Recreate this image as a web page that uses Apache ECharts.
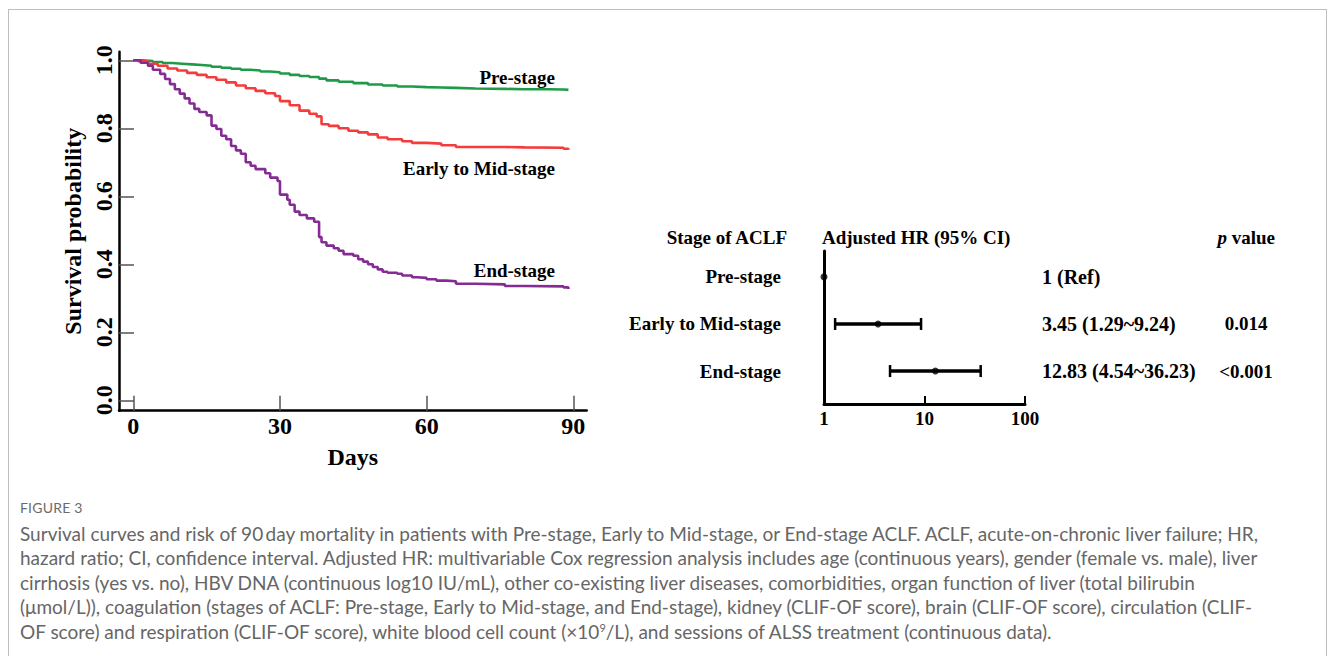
<!DOCTYPE html>
<html>
<head>
<meta charset="utf-8">
<script src="https://cdn.jsdelivr.net/npm/echarts@6/dist/echarts.min.js"></script>
<style>
  html, body { margin: 0; padding: 0; background: #fff; width: 1330px; height: 656px; overflow: hidden; }
  #frame { position: absolute; left: 8px; top: 9px; width: 1319px; height: 700px; border: 1px solid #bdbdbd; box-sizing: border-box; }
  #chart { position: absolute; left: 0; top: 0; width: 1330px; height: 480px; }
  #figlabel { position: absolute; left: 20px; top: 499px; font-family: Lato, "Open Sans", sans-serif; font-size: 14px; color: #6b6b6b; letter-spacing: 0.2px; }
  #caption { position: absolute; left: 20px; top: 522px; font-family: Lato, "Open Sans", sans-serif; font-size: 19px; line-height: 24.4px; color: #666; white-space: nowrap; }
  #caption sup { font-size: 11px; line-height: 0; vertical-align: 7px; }
</style>
</head>
<body>
<div id="frame"></div>
<div id="chart"></div>
<div id="figlabel">FIGURE 3</div>
<div id="caption">Survival curves and risk of 90&#8201;day mortality in patients with Pre-stage, Early to Mid-stage, or End-stage ACLF. ACLF, acute-on-chronic liver failure; HR,<br>hazard ratio; CI, confidence interval. Adjusted HR: multivariable Cox regression analysis includes age (continuous years), gender (female vs. male), liver<br>cirrhosis (yes vs. no), HBV DNA (continuous log10 IU/mL), other co-existing liver diseases, comorbidities, organ function of liver (total bilirubin<br>(μmol/L)), coagulation (stages of ACLF: Pre-stage, Early to Mid-stage, and End-stage), kidney (CLIF-OF score), brain (CLIF-OF score), circulation (CLIF-<br>OF score) and respiration (CLIF-OF score), white blood cell count (×10<sup>9</sup>/L), and sessions of ALSS treatment (continuous data).</div>
<script>
// ---------- Kaplan-Meier curves ----------
const preDays = [0, 2, 4, 6, 8, 10, 12, 14, 16, 18, 20, 22, 24, 26, 28, 30, 32, 34, 36, 38, 39.5, 42, 45, 48, 51, 54, 57, 60, 63, 66, 70, 76, 80, 85, 88, 89];
const preSurv = [1.0, 0.998, 0.995, 0.992, 0.990, 0.988, 0.986, 0.984, 0.981, 0.978, 0.975, 0.972, 0.970, 0.967, 0.965, 0.961, 0.957, 0.954, 0.951, 0.946, 0.941, 0.937, 0.933, 0.929, 0.926, 0.923, 0.921, 0.920, 0.919, 0.917, 0.916, 0.915, 0.915, 0.914, 0.913, 0.911];

const earlyDays = [0, 1, 3, 5, 7, 9, 11, 13, 15, 17, 19, 21, 23, 25, 27, 29, 30, 32, 34, 36, 37.5, 38.5, 40, 42, 44, 46, 48, 50, 52, 55, 57, 60, 63, 66, 70, 76, 80, 88, 89];
const earlySurv = [1.0, 0.997, 0.990, 0.984, 0.976, 0.970, 0.963, 0.957, 0.950, 0.943, 0.935, 0.926, 0.918, 0.910, 0.903, 0.895, 0.880, 0.868, 0.852, 0.843, 0.835, 0.812, 0.807, 0.800, 0.793, 0.788, 0.782, 0.773, 0.768, 0.762, 0.757, 0.755, 0.750, 0.745, 0.745, 0.744, 0.743, 0.740, 0.737];

const endDays = [0, 1.5, 3, 4, 5.5, 6.5, 7.5, 8.5, 9.5, 10.5, 11.5, 12.5, 13.5, 15, 16, 17, 18, 19, 20, 21, 22, 23, 24, 25, 27, 28, 29.5, 30, 31.5, 32, 33, 34, 35.5, 37, 38, 38.5, 39.5, 41, 42, 43, 45, 46, 47, 48, 49, 50, 51, 52, 54, 55, 57, 58, 60, 62, 64, 66, 70, 76, 80, 88, 89];
const endSurv = [1.0, 0.993, 0.984, 0.972, 0.960, 0.945, 0.930, 0.915, 0.902, 0.888, 0.873, 0.857, 0.848, 0.838, 0.808, 0.798, 0.778, 0.768, 0.748, 0.735, 0.725, 0.700, 0.690, 0.680, 0.668, 0.655, 0.645, 0.605, 0.590, 0.575, 0.555, 0.545, 0.535, 0.525, 0.480, 0.465, 0.455, 0.447, 0.440, 0.430, 0.425, 0.415, 0.408, 0.400, 0.392, 0.385, 0.378, 0.375, 0.372, 0.367, 0.362, 0.360, 0.356, 0.352, 0.350, 0.343, 0.341, 0.336, 0.335, 0.332, 0.327];

const curveNames = ['Pre-stage', 'Early to Mid-stage', 'End-stage'];
const dayTicks = [0, 30, 60, 90];
const probTicks = [0, 0.2, 0.4, 0.6, 0.8, 1.0];

// ---------- Forest plot ----------
const stages = ['Pre-stage', 'Early to Mid-stage', 'End-stage'];
const stageRows = [1, 2, 3];
const hr = [1, 3.45, 12.83];
const ciLow = [null, 1.29, 4.54];
const ciHigh = [null, 9.24, 36.23];
const hrText = ['1 (Ref)', '3.45 (1.29~9.24)', '12.83 (4.54~36.23)'];
const pText = ['', '0.014', '<0.001'];
const hrTicks = [1, 10, 100];

const serif = '"Liberation Serif", "Times New Roman", serif';
const colors = ['#1f9a48', '#f43c3c', '#852c94'];

function pairs(xs, ys) { return xs.map((x, i) => [x, ys[i]]); }

const chart = echarts.init(document.getElementById('chart'), null, { renderer: 'svg' });

const ciData = [];
for (let i = 0; i < stages.length; i++) {
  if (ciLow[i] != null) ciData.push([ciLow[i], ciHigh[i], stageRows[i]]);
}

const option = {
  animation: false,
  backgroundColor: 'transparent',
  grid: [
    { left: 119, top: 51.7, width: 467.7, height: 359, containLabel: false },
    { left: 824, top: 251, width: 201, height: 153, containLabel: false }
  ],
  xAxis: [
    {
      gridIndex: 0, type: 'value', min: -2.925, max: 92.74,
      name: 'Days', nameLocation: 'middle', nameGap: 34,
      nameTextStyle: { fontFamily: serif, fontWeight: 'bold', fontSize: 24, color: '#000' },
      axisLine: { onZero: false, lineStyle: { color: '#000', width: 2.5 } },
      axisTick: { customValues: dayTicks, inside: true, length: 15, lineStyle: { color: '#555', width: 1.5 } },
      axisLabel: { customValues: dayTicks, margin: 3, fontFamily: serif, fontWeight: 'bold', fontSize: 24, color: '#000' },
      splitLine: { show: false }
    },
    {
      gridIndex: 1, type: 'log', logBase: 10, min: 1, max: 100,
      axisLine: { onZero: false, lineStyle: { color: '#000', width: 3 } },
      axisTick: { customValues: hrTicks, inside: true, length: 8, lineStyle: { color: '#000', width: 2 } },
      axisLabel: { customValues: hrTicks, margin: 5, fontFamily: serif, fontWeight: 'bold', fontSize: 19, color: '#000' },
      minorTick: { show: false },
      splitLine: { show: false }
    }
  ],
  yAxis: [
    {
      gridIndex: 0, type: 'value', min: -0.0306, max: 1.0253,
      name: 'Survival probability', nameLocation: 'middle', nameGap: 34,
      nameTextStyle: { fontFamily: serif, fontWeight: 'bold', fontSize: 24, color: '#000' },
      axisLine: { show: true, onZero: false, lineStyle: { color: '#000', width: 2.5 } },
      axisTick: { customValues: probTicks, inside: true, length: 15, lineStyle: { color: '#555', width: 1.5 } },
      axisLabel: { customValues: probTicks, rotate: 90, margin: 3, formatter: v => v.toFixed(1), fontFamily: serif, fontWeight: 'bold', fontSize: 24, color: '#000' },
      splitLine: { show: false }
    },
    {
      gridIndex: 1, type: 'value', inverse: true, min: 0.45, max: 3.7,
      axisLine: { show: true, onZero: false, lineStyle: { color: '#000', width: 3 } },
      axisTick: { show: false },
      axisLabel: { customValues: stageRows, margin: 43, formatter: v => stages[stageRows.indexOf(v)], fontFamily: serif, fontWeight: 'bold', fontSize: 19, color: '#000' },
      splitLine: { show: false }
    },
    {
      gridIndex: 1, type: 'value', inverse: true, min: 0.45, max: 3.7, position: 'right',
      axisLine: { show: false }, axisTick: { show: false },
      axisLabel: { customValues: stageRows, margin: 17, formatter: v => hrText[stageRows.indexOf(v)], fontFamily: serif, fontWeight: 'bold', fontSize: 20, color: '#000' },
      splitLine: { show: false }
    },
    {
      gridIndex: 1, type: 'value', inverse: true, min: 0.45, max: 3.7, position: 'right', offset: 216,
      axisLine: { show: false }, axisTick: { show: false },
      axisLabel: { customValues: stageRows, margin: 5, align: 'center', formatter: v => pText[stageRows.indexOf(v)], fontFamily: serif, fontWeight: 'bold', fontSize: 19, color: '#000' },
      splitLine: { show: false }
    }
  ],
  series: [
    { name: curveNames[0], type: 'line', step: 'end', xAxisIndex: 0, yAxisIndex: 0, showSymbol: false, symbol: 'none', data: pairs(preDays, preSurv), lineStyle: { color: colors[0], width: 2.6 }, itemStyle: { color: colors[0] } },
    { name: curveNames[1], type: 'line', step: 'end', xAxisIndex: 0, yAxisIndex: 0, showSymbol: false, symbol: 'none', data: pairs(earlyDays, earlySurv), lineStyle: { color: colors[1], width: 2.6 }, itemStyle: { color: colors[1] } },
    { name: curveNames[2], type: 'line', step: 'end', xAxisIndex: 0, yAxisIndex: 0, showSymbol: false, symbol: 'none', data: pairs(endDays, endSurv), lineStyle: { color: colors[2], width: 2.6 }, itemStyle: { color: colors[2] } },
    {
      type: 'custom', xAxisIndex: 1, yAxisIndex: 1, data: ciData,
      renderItem: function (params, api) {
        const a = api.coord([api.value(0), api.value(2)]);
        const b = api.coord([api.value(1), api.value(2)]);
        const cap = 6;
        return {
          type: 'group',
          children: [
            { type: 'line', shape: { x1: a[0], y1: a[1], x2: b[0], y2: b[1] }, style: { stroke: '#000', lineWidth: 3.5 } },
            { type: 'line', shape: { x1: a[0], y1: a[1] - cap, x2: a[0], y2: a[1] + cap }, style: { stroke: '#000', lineWidth: 2.5 } },
            { type: 'line', shape: { x1: b[0], y1: b[1] - cap, x2: b[0], y2: b[1] + cap }, style: { stroke: '#000', lineWidth: 2.5 } }
          ]
        };
      }
    },
    {
      type: 'scatter', xAxisIndex: 1, yAxisIndex: 1, symbol: 'circle', symbolSize: 7,
      data: pairs(hr, stageRows), itemStyle: { color: '#000' }, z: 5
    }
  ],
  graphic: [
    { type: 'text', x: 555, y: 77, style: { text: curveNames[0], textAlign: 'right', textVerticalAlign: 'middle', font: 'bold 19px ' + serif, fill: '#000' } },
    { type: 'text', x: 555, y: 168, style: { text: curveNames[1], textAlign: 'right', textVerticalAlign: 'middle', font: 'bold 19px ' + serif, fill: '#000' } },
    { type: 'text', x: 555, y: 270, style: { text: curveNames[2], textAlign: 'right', textVerticalAlign: 'middle', font: 'bold 19px ' + serif, fill: '#000' } },
    { type: 'text', x: 787, y: 237, style: { text: 'Stage of ACLF', textAlign: 'right', textVerticalAlign: 'middle', font: 'bold 19px ' + serif, fill: '#000' } },
    { type: 'text', x: 822, y: 237, style: { text: 'Adjusted HR (95% CI)', textAlign: 'left', textVerticalAlign: 'middle', font: 'bold 19px ' + serif, fill: '#000' } },
    { type: 'text', x: 1275, y: 237, style: { text: '{i|p} value', textAlign: 'right', textVerticalAlign: 'middle', font: 'bold 19px ' + serif, fill: '#000',
      rich: { i: { fontStyle: 'italic', fontWeight: 'bold', fontSize: 19, fontFamily: serif, fill: '#000' } } } }
  ]
};
chart.setOption(option);
</script>
</body>
</html>
